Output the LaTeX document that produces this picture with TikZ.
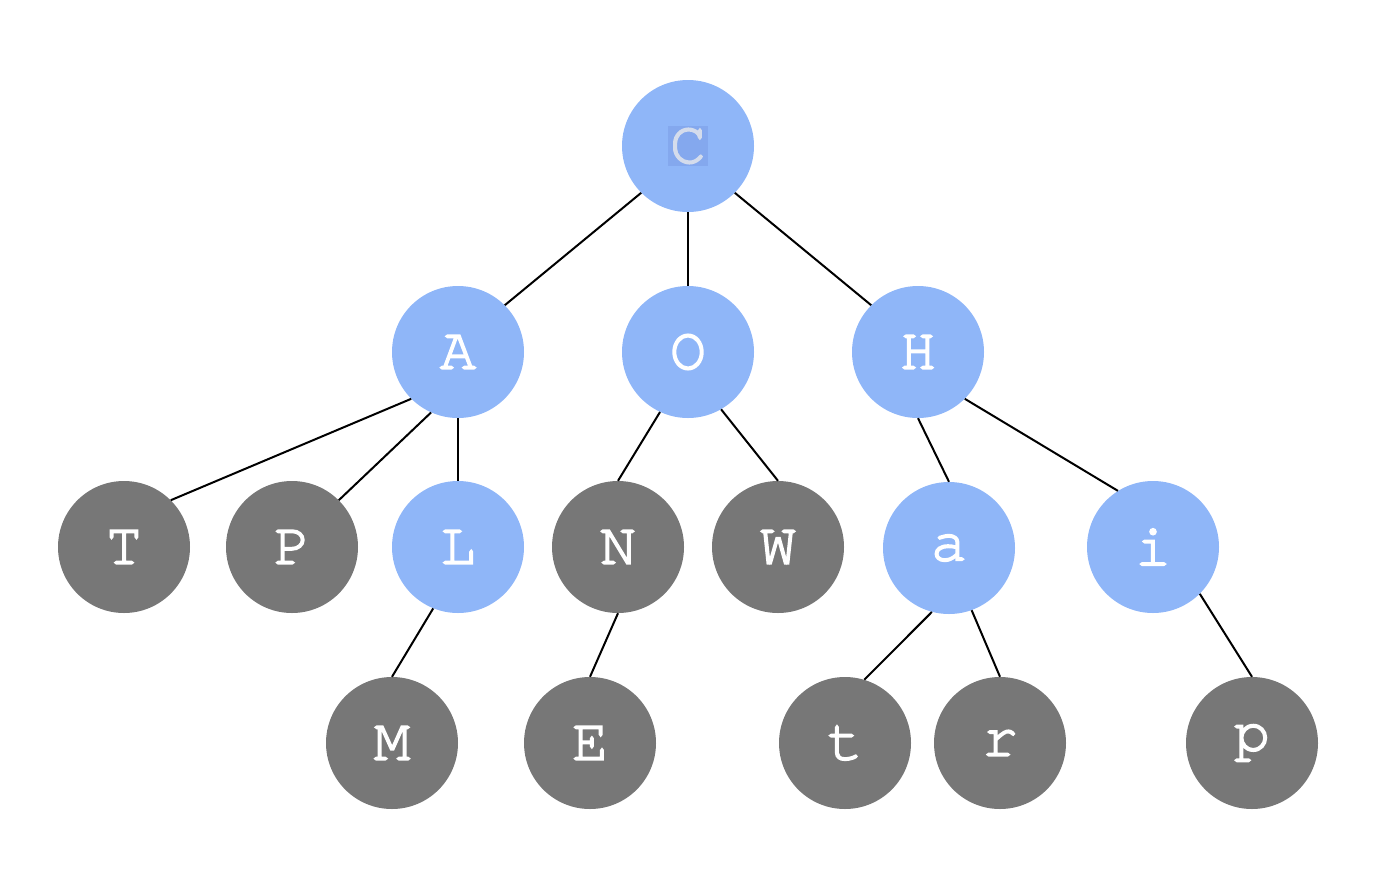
\documentclass[tikz,border=0pt]{standalone}
\usepackage{fontspec}
\usepackage{tikz}
\newfontfamily\cursorfont[FakeBold=2.6]{texgyrecursor-regular.otf}
\definecolor{nodeblue}{HTML}{8FB6F8}
\definecolor{nodegray}{HTML}{777777}
\definecolor{selblue}{HTML}{84A8EE}
\definecolor{seltext}{HTML}{D4DCEC}
\newcommand{\labelfont}{\cursorfont\fontsize{60}{64}\selectfont}
\tikzstyle{inner} = [circle, fill=nodeblue, minimum size=132pt, inner sep=0pt, text=white, font=\labelfont]
\tikzstyle{leaf} = [circle, fill=nodegray, minimum size=132pt, inner sep=0pt, text=white, font=\labelfont]
\tikzstyle{edge} = [line width=2pt, black]

\begin{document}
\begin{tikzpicture}[x=1pt,y=-1pt]
\useasboundingbox (0,0) rectangle (1385,871);

\node (C) [inner] at (688,146) {\setlength{\fboxsep}{2pt}\colorbox{selblue}{\textcolor{seltext}{C}}};

\node (A) [inner] at (458,352) {A};
\node (O) [inner] at (688,352) {O};
\node (H) [inner] at (918,352) {H};

\node (T) [leaf] at (124,547) {T};
\node (P) [leaf] at (292,547) {P};
\node (L) [inner] at (458,547) {L};
\node (N) [leaf] at (618,547) {N};
\node (W) [leaf] at (778,547) {W};
\node (a) [inner] at (949,548) {a};
\node (i) [inner] at (1153,547) {i};

\node (M) [leaf] at (392,743) {M};
\node (E) [leaf] at (590,743) {E};
\node (t) [leaf] at (845,743) {t};
\node (r) [leaf] at (1000,743) {r};
\node (p) [leaf] at (1252,743) {p};

\draw [edge] (C.225) -- (A.45);
\draw [edge] (C.south) -- (O.north);
\draw [edge] (C.-45) -- (H.135);
\draw [edge] (A.225) -- (T.45);
\draw [edge] (A.246) -- (P.45);
\draw [edge] (A.south) -- (L.north);
\draw [edge] (O.245) -- (N.north);
\draw [edge] (O.-60) -- (W.north);
\draw [edge] (H.south) -- (a.north);
\draw [edge] (H.-45) -- (i.122);
\draw [edge] (L.248) -- (M.north);
\draw [edge] (N.south) -- (E.north);
\draw [edge] (a.255) -- (t.73);
\draw [edge] (a.290) -- (r.north);
\draw [edge] (i.-45) -- (p.north);

\end{tikzpicture}
\end{document}
